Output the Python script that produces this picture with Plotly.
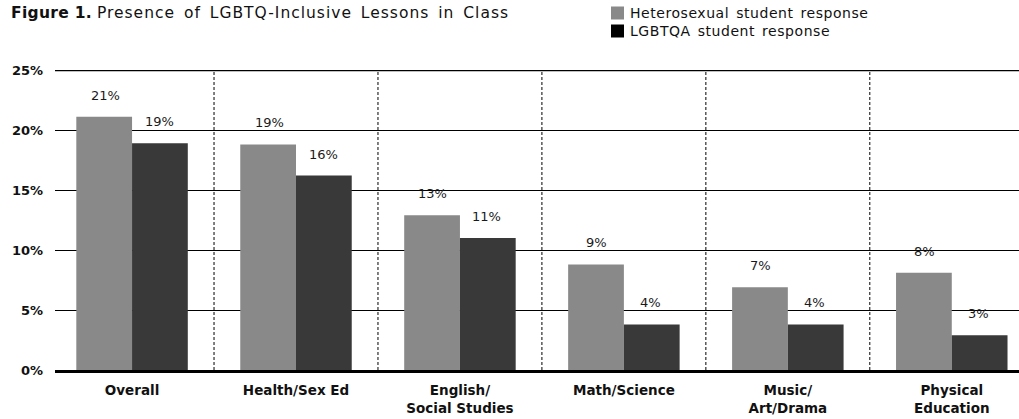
import plotly.graph_objects as go

categories = ["Overall", "Health/Sex Ed", "English/<br>Social Studies", "Math/Science",
              "Music/<br>Art/Drama", "Physical<br>Education"]
hetero = [21.1, 18.8, 12.9, 8.8, 6.9, 8.1]
lgbtqa = [18.9, 16.2, 11.0, 3.8, 3.8, 2.9]
hetero_labels = ["21%", "19%", "13%", "9%", "7%", "8%"]
lgbtqa_labels = ["19%", "16%", "11%", "4%", "4%", "3%"]
y_ticks = [0, 5, 10, 15, 20, 25]
y_tick_text = ["0%", "5%", "10%", "15%", "20%", "25%"]
series_names = ["Heterosexual student response", "LGBTQA student response"]

GRAY = "#898989"
DARK = "#393939"
FONT = "DejaVu Sans"

W, H = 1019, 419
ML, MR, MT, MB = 55, 0, 70, 49
PW, PH = W - ML - MR, H - MT - MB


def px_x(p):  # window pixel -> paper coordinate
    return (p - ML) / PW


def px_y(p):
    return 1 + (MT - p) / PH


x = list(range(len(categories)))

fig = go.Figure()
fig.add_trace(go.Bar(x=x, y=hetero, marker=dict(color=GRAY, line=dict(width=0)),
                     name=series_names[0], showlegend=False, hoverinfo="skip"))
fig.add_trace(go.Bar(x=x, y=lgbtqa, marker=dict(color=DARK, line=dict(width=0)),
                     name=series_names[1], showlegend=False, hoverinfo="skip"))

annotations = []
for i in x:
    annotations.append(dict(x=i, y=hetero[i], xref="x", yref="y", text=hetero_labels[i],
                            showarrow=False, xshift=-27, yshift=12, yanchor="bottom",
                            font=dict(family=FONT, size=13, color="#1a1a1a")))
    annotations.append(dict(x=i, y=lgbtqa[i], xref="x", yref="y", text=lgbtqa_labels[i],
                            showarrow=False, xshift=27, yshift=12, yanchor="bottom",
                            font=dict(family=FONT, size=13, color="#1a1a1a")))

# title
annotations.append(dict(
    x=px_x(9), y=px_y(13), xref="paper", yref="paper", showarrow=False,
    text=('<span style="letter-spacing:0.3px"><b>Figure 1.</b></span> '
          '<span style="letter-spacing:1px;word-spacing:3px">'
          'Presence of LGBTQ-Inclusive Lessons in Class</span>'),
    xanchor="left", yanchor="middle",
    font=dict(family=FONT, size=15.5, color="#111")))

# legend (manual)
shapes = []
legend_colors = [GRAY, "#000000"]
legend_rows = [13, 31]
for name, col, row in zip(series_names, legend_colors, legend_rows):
    shapes.append(dict(type="rect", xref="paper", yref="paper",
                       x0=px_x(611), x1=px_x(624), y0=px_y(row + 6.5), y1=px_y(row - 6.5),
                       fillcolor=col, line=dict(width=0)))
    annotations.append(dict(
        x=px_x(628), y=px_y(row), xref="paper", yref="paper", showarrow=False,
        text=f'<span style="letter-spacing:0.55px;word-spacing:2px">{name}</span>',
        xanchor="left", yanchor="middle",
        font=dict(family=FONT, size=14, color="#111")))

for i in range(len(categories) - 1):
    shapes.append(dict(type="line", xref="x", yref="y", x0=i + 0.5, x1=i + 0.5, y0=0, y1=25,
                       line=dict(color="#000", width=1, dash="3px,2px"), layer="below"))
shapes.append(dict(type="line", xref="paper", yref="y", x0=0, x1=1, y0=25, y1=25,
                   line=dict(color="#000", width=2.5)))

fig.update_layout(
    width=W, height=H,
    margin=dict(l=ML, r=MR, t=MT, b=MB, autoexpand=False),
    paper_bgcolor="white", plot_bgcolor="white",
    barmode="group", bargap=0.32, bargroupgap=0,
    font=dict(family=FONT, color="#111"),
    showlegend=False, hovermode=False,
    annotations=annotations,
    shapes=shapes,
)

fig.update_xaxes(
    tickmode="array", tickvals=x, ticktext=[f"<b>{c}</b>" for c in categories],
    range=[-0.47, 5.41], showgrid=False, zeroline=False,
    showline=True, linecolor="#000", linewidth=2.5, layer="above traces",
    ticks="", ticklabelstandoff=6,
    tickfont=dict(family=FONT, size=13.5, color="#111"),
)
fig.update_yaxes(
    range=[0, 25], tickmode="array", tickvals=y_ticks,
    ticktext=[f"<b>{t}</b>" for t in y_tick_text],
    showgrid=True, gridcolor="#000", gridwidth=1, zeroline=False,
    ticks="", ticklabelstandoff=11,
    tickfont=dict(family=FONT, size=13, color="#111"),
)

# remove the default 8px page margin so the figure fills the window exactly
fig.write_html("out.html", config={"displayModeBar": False},
               post_script="document.body.style.margin='0';")
